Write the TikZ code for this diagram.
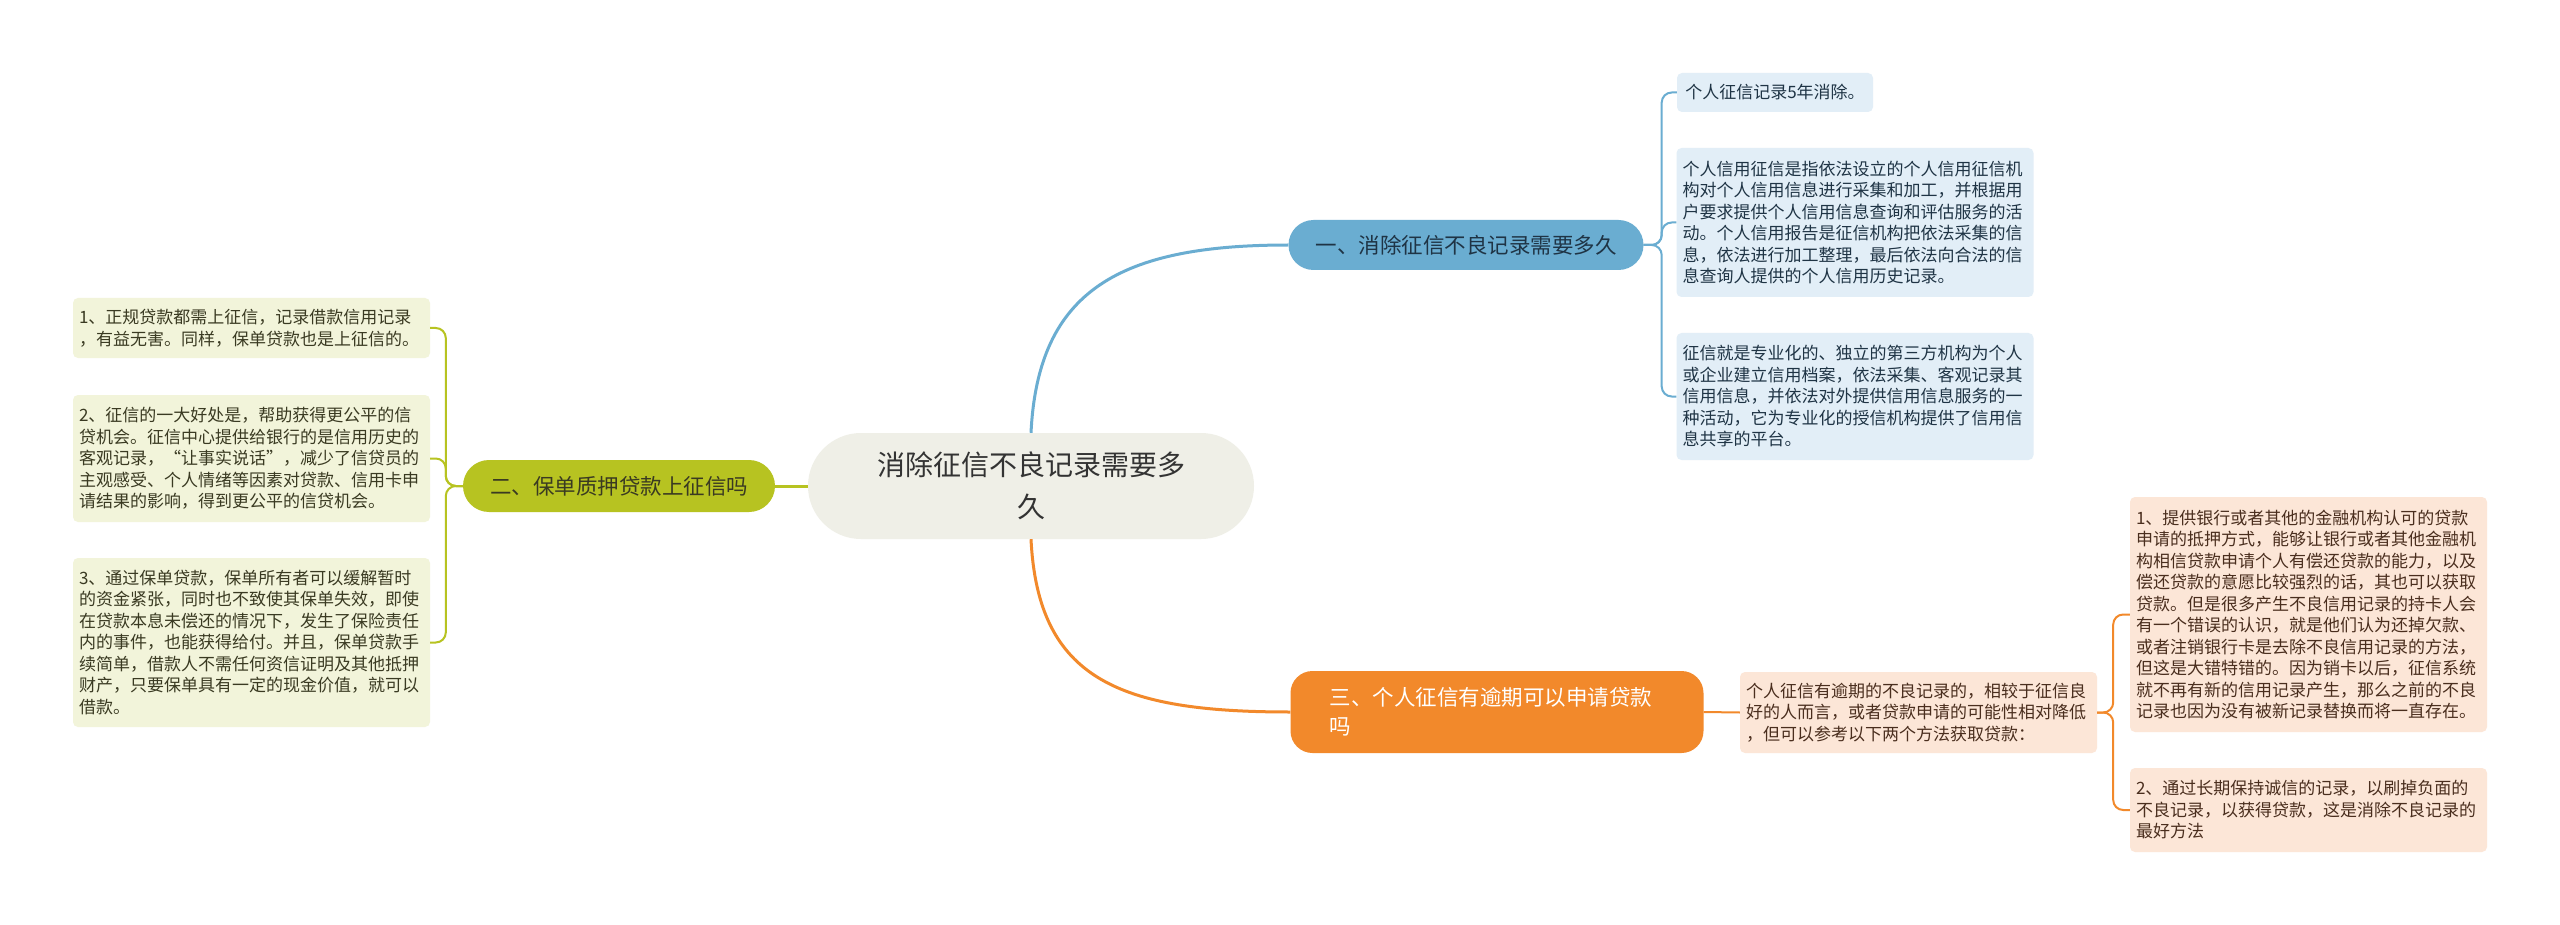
\documentclass[tikz,border=0pt]{standalone}
\usepackage{fontspec}
\setmainfont{Noto Sans CJK SC}

\definecolor{rootfill}{HTML}{EFEFE7}
\definecolor{bluemain}{HTML}{6AADD1}
\definecolor{blueleaf}{HTML}{E2EEF7}
\definecolor{bluetext}{HTML}{1F3445}
\definecolor{greenmain}{HTML}{B7C321}
\definecolor{greenleaf}{HTML}{F2F4DA}
\definecolor{greentext}{HTML}{3A3A22}
\definecolor{orangemain}{HTML}{F2892B}
\definecolor{orangeleaf}{HTML}{FCE6D7}
\definecolor{orangetext}{HTML}{4A2E1E}

\begin{document}
\begin{tikzpicture}[x=1pt,y=-1pt,
    leaf/.style={rounded corners=5pt,text width=345pt,align=left,
        inner xsep=6pt,inner ysep=0pt,font=\fontsize{17}{21.5}\selectfont},
    topic/.style={inner sep=0pt,font=\fontsize{21.5}{29}\selectfont},
    mainlink/.style={line width=3pt},
    link/.style={line width=2pt,rounded corners=10pt}]
    \path[use as bounding box,fill=white] (0,0) rectangle (2560,925);

    % Mitte
    \node[fill=rootfill,rounded corners=53pt,minimum width=446pt,minimum height=106pt,
        inner sep=0pt,align=center,text=black!80,font=\fontsize{28}{42}\selectfont]
        (root) at (1031,486) {消除征信不良记录需要多\\久};

    % Zweige
    \node[topic,fill=bluemain,rounded corners=25pt,minimum width=355pt,minimum height=50pt,
        text=bluetext] (br1) at (1466,245) {一、消除征信不良记录需要多久};
    \node[topic,fill=greenmain,rounded corners=26pt,minimum width=312pt,minimum height=52pt,
        text=greentext] (br2) at (619,486) {二、保单质押贷款上征信吗};
    \node[topic,fill=orangemain,rounded corners=22pt,minimum width=413pt,minimum height=82pt,
        text width=335pt,align=left,text=white] (br3) at (1497,712)
        {三、个人征信有逾期可以申请贷款\\吗};

    % Blätter, blau
    \node[rounded corners=5pt,fill=blueleaf,text=bluetext,minimum width=196pt,minimum height=39pt,
        inner sep=0pt,font=\fontsize{17}{21.5}\selectfont] (b1) at (1775,92.5)
        {个人征信记录5年消除。};
    \node[leaf,fill=blueleaf,text=bluetext,minimum height=149pt] (b2) at (1855,222.5)
        {个人信用征信是指依法设立的个人信用征信机\\构对个人信用信息进行采集和加工，并根据用\\户要求提供个人信用信息查询和评估服务的活\\动。个人信用报告是征信机构把依法采集的信\\息，依法进行加工整理，最后依法向合法的信\\息查询人提供的个人信用历史记录。};
    \node[leaf,fill=blueleaf,text=bluetext,minimum height=127pt] (b3) at (1855,396.5)
        {征信就是专业化的、独立的第三方机构为个人\\或企业建立信用档案，依法采集、客观记录其\\信用信息，并依法对外提供信用信息服务的一\\种活动，它为专业化的授信机构提供了信用信\\息共享的平台。};

    % Blätter, grün
    \node[leaf,fill=greenleaf,text=greentext,minimum height=60pt] (g1) at (251.5,328)
        {1、正规贷款都需上征信，记录借款信用记录\\，有益无害。同样，保单贷款也是上征信的。};
    \node[leaf,fill=greenleaf,text=greentext,minimum height=127pt] (g2) at (251.5,458.5)
        {2、征信的一大好处是，帮助获得更公平的信\\贷机会。征信中心提供给银行的是信用历史的\\客观记录，“让事实说话”，减少了信贷员的\\主观感受、个人情绪等因素对贷款、信用卡申\\请结果的影响，得到更公平的信贷机会。};
    \node[leaf,fill=greenleaf,text=greentext,minimum height=169pt] (g3) at (251.5,642.5)
        {3、通过保单贷款，保单所有者可以缓解暂时\\的资金紧张，同时也不致使其保单失效，即使\\在贷款本息未偿还的情况下，发生了保险责任\\内的事件，也能获得给付。并且，保单贷款手\\续简单，借款人不需任何资信证明及其他抵押\\财产，只要保单具有一定的现金价值，就可以\\借款。};

    % Blätter, orange
    \node[leaf,fill=orangeleaf,text=orangetext,minimum height=81pt] (om) at (1918.5,712.5)
        {个人征信有逾期的不良记录的，相较于征信良\\好的人而言，或者贷款申请的可能性相对降低\\，但可以参考以下两个方法获取贷款：};
    \node[leaf,fill=orangeleaf,text=orangetext,minimum height=235pt] (o1) at (2308.5,614.5)
        {1、提供银行或者其他的金融机构认可的贷款\\申请的抵押方式，能够让银行或者其他金融机\\构相信贷款申请个人有偿还贷款的能力，以及\\偿还贷款的意愿比较强烈的话，其也可以获取\\贷款。但是很多产生不良信用记录的持卡人会\\有一个错误的认识，就是他们认为还掉欠款、\\或者注销银行卡是去除不良信用记录的方法，\\但这是大错特错的。因为销卡以后，征信系统\\就不再有新的信用记录产生，那么之前的不良\\记录也因为没有被新记录替换而将一直存在。};
    \node[leaf,fill=orangeleaf,text=orangetext,minimum height=84pt] (o2) at (2308.5,810)
        {2、通过长期保持诚信的记录，以刷掉负面的\\不良记录，以获得贷款，这是消除不良记录的\\最好方法};

    % Verbindungen
    \draw[mainlink,bluemain] (root.north) .. controls (1038,290) and (1120,245) .. (br1.west);
    \draw[mainlink,orangemain] (root.south) .. controls (1038,680) and (1120,712) .. (br3.west);
    \draw[mainlink,greenmain] (root.west) -- (br2.east);

    \foreach \leafname in {b1,b2,b3}
        \draw[link,bluemain] (br1.east) -- ++(18,0) |- (\leafname.west);
    \foreach \leafname in {g1,g2,g3}
        \draw[link,greenmain] (br2.west) -- ++(-17,0) |- (\leafname.east);
    \draw[link,orangemain] (br3.east) -- (om.west);
    \foreach \leafname in {o1,o2}
        \draw[link,orangemain] (om.east) -- ++(16,0) |- (\leafname.west);
\end{tikzpicture}
\end{document}
